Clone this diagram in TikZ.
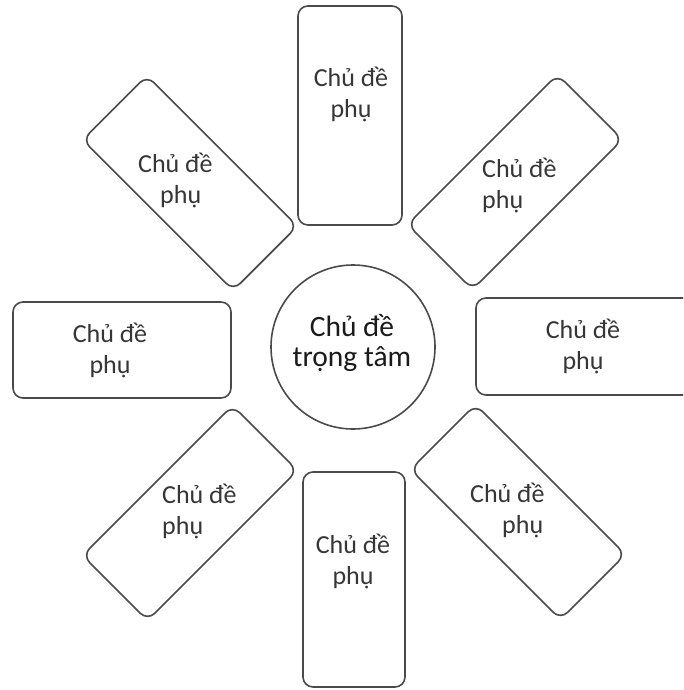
\documentclass[tikz,border=0pt]{standalone}
\usepackage{fontspec}
\setmainfont{Carlito}
\definecolor{linegray}{HTML}{4A4A4A}
\definecolor{subtext}{HTML}{363636}
\definecolor{maintext}{HTML}{1A1A1A}
\begin{document}
\begin{tikzpicture}[x=1pt,y=-1pt,
  subbox/.style={draw=linegray, line width=1.6pt, fill=white, rounded corners=10pt, inner sep=0pt},
  subtxt/.style={text=subtext, inner sep=0pt, font=\fontsize{26}{31}\selectfont},
  maintxt/.style={text=maintext, inner sep=0pt, align=center, font=\fontsize{29.5}{30.5}\selectfont}]
\clip (0,0) rectangle (683,690);
\fill[white] (0,0) rectangle (683,690);
% central circle
\node[draw=linegray, line width=1.6pt, circle, minimum size=164pt, inner sep=0pt] (c) at (353,347) {};
\node[maintxt] (ct) at (352,343) {Chủ đề\\trọng tâm};
% vertical / horizontal boxes
\node[subbox, minimum width=104pt, minimum height=219pt] (bt) at (350,115.5) {};
\node[subbox, minimum width=102pt, minimum height=215pt] (bb) at (354,579.5) {};
\node[subbox, minimum width=218pt, minimum height=96pt] (bl) at (122,350) {};
\node[subbox, minimum width=218pt, minimum height=97pt] (br) at (585,346.5) {};
% diagonal boxes
\node[subbox, minimum width=213pt, minimum height=91pt, rotate=-45] (btl) at (190,183) {};
\node[subbox, minimum width=212pt, minimum height=92pt, rotate=45] (btr) at (515,182) {};
\node[subbox, minimum width=212pt, minimum height=92pt, rotate=45] (bbl) at (190,513) {};
\node[subbox, minimum width=212pt, minimum height=92pt, rotate=-45] (bbr) at (518,512) {};
% texts
\node[subtxt, align=center] (tt) at (351,94) {Chủ đề\\phụ};
\node[subtxt, align=center] (tb) at (353,561) {Chủ đề\\phụ};
\node[subtxt, align=center] (tl) at (110,350) {Chủ đề\\phụ};
\node[subtxt, align=center] (tr) at (583,346) {Chủ đề\\phụ};
\node[subtxt, align=left, anchor=west] (ttl) at (138,180) {Chủ đề\\\hspace*{22pt}phụ};
\node[subtxt, align=left, anchor=west] (ttr) at (482,185) {Chủ đề\\phụ};
\node[subtxt, align=left, anchor=west] (tbl) at (162,511) {Chủ đề\\phụ};
\node[subtxt, align=left, anchor=west] (tbr) at (470,510) {Chủ đề\\\hspace*{32pt}phụ};
\end{tikzpicture}
\end{document}
